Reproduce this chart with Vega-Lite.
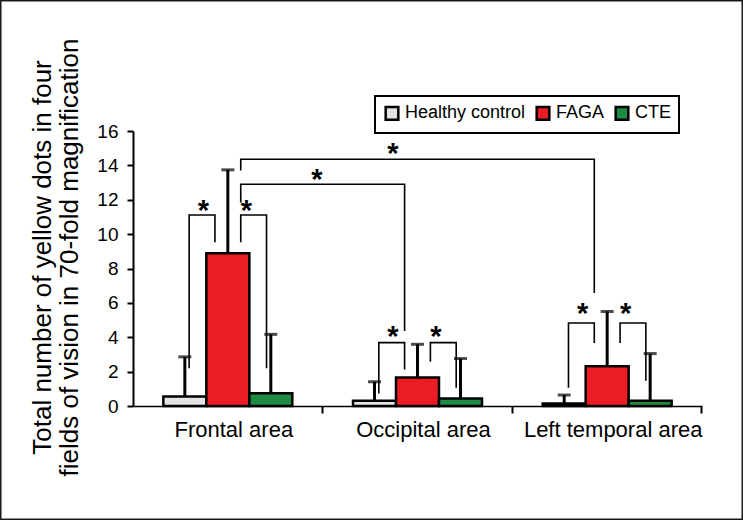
{
  "$schema": "https://vega.github.io/schema/vega-lite/v6.json",
  "width": 743,
  "height": 520,
  "autosize": {"type": "none"},
  "padding": 0,
  "background": "white",
  "config": {
    "font": "Liberation Sans",
    "view": {"stroke": "#1a1a1a", "strokeWidth": 3},
    "axis": {"domainColor": "black", "tickColor": "black", "labelColor": "black", "titleColor": "black", "grid": false},
    "axisY": {"offset": -133, "tickSize": 6, "tickWidth": 2, "domainWidth": 2, "labelFontSize": 19, "labelPadding": 9, "titleFontSize": 26, "titleFontWeight": "normal", "titleLineHeight": 27, "titlePadding": 14, "titleY": 257, "tickCount": 8}
  },
  "datasets": {
    "bars": [
      {"area": "Frontal area", "group": "Healthy control", "mean": 0.55, "upper": 2.86},
      {"area": "Frontal area", "group": "FAGA", "mean": 8.89, "upper": 13.74},
      {"area": "Frontal area", "group": "CTE", "mean": 0.74, "upper": 4.17},
      {"area": "Occipital area", "group": "Healthy control", "mean": 0.31, "upper": 1.41},
      {"area": "Occipital area", "group": "FAGA", "mean": 1.66, "upper": 3.59},
      {"area": "Occipital area", "group": "CTE", "mean": 0.44, "upper": 2.76},
      {"area": "Left temporal area", "group": "Healthy control", "mean": 0.14, "upper": 0.64},
      {"area": "Left temporal area", "group": "FAGA", "mean": 2.32, "upper": 5.5},
      {"area": "Left temporal area", "group": "CTE", "mean": 0.3, "upper": 3.05}
    ],
    "brackets": [
      {"pair": "F1", "area": "Frontal area", "anchor": "HC right", "level": 2.19, "k": 1},
      {"pair": "F1", "area": "Frontal area", "anchor": "HC right", "level": 11.11, "k": 2},
      {"pair": "F1", "area": "Frontal area", "anchor": "FAGA left", "level": 11.11, "k": 3},
      {"pair": "F1", "area": "Frontal area", "anchor": "FAGA left", "level": 9.53, "k": 4},
      {"pair": "F2", "area": "Frontal area", "anchor": "FAGA right", "level": 9.53, "k": 1},
      {"pair": "F2", "area": "Frontal area", "anchor": "FAGA right", "level": 11.11, "k": 2},
      {"pair": "F2", "area": "Frontal area", "anchor": "CTE left", "level": 11.11, "k": 3},
      {"pair": "F2", "area": "Frontal area", "anchor": "CTE left", "level": 2.19, "k": 4},
      {"pair": "O1", "area": "Occipital area", "anchor": "HC right", "level": 0.73, "k": 1},
      {"pair": "O1", "area": "Occipital area", "anchor": "HC right", "level": 3.69, "k": 2},
      {"pair": "O1", "area": "Occipital area", "anchor": "FAGA left", "level": 3.69, "k": 3},
      {"pair": "O1", "area": "Occipital area", "anchor": "FAGA left", "level": 2.13, "k": 4},
      {"pair": "O2", "area": "Occipital area", "anchor": "FAGA right", "level": 2.57, "k": 1},
      {"pair": "O2", "area": "Occipital area", "anchor": "FAGA right", "level": 3.69, "k": 2},
      {"pair": "O2", "area": "Occipital area", "anchor": "CTE left", "level": 3.69, "k": 3},
      {"pair": "O2", "area": "Occipital area", "anchor": "CTE left", "level": 1.06, "k": 4},
      {"pair": "L1", "area": "Left temporal area", "anchor": "HC right", "level": 1.06, "k": 1},
      {"pair": "L1", "area": "Left temporal area", "anchor": "HC right", "level": 4.83, "k": 2},
      {"pair": "L1", "area": "Left temporal area", "anchor": "FAGA left", "level": 4.83, "k": 3},
      {"pair": "L1", "area": "Left temporal area", "anchor": "FAGA left", "level": 3.67, "k": 4},
      {"pair": "L2", "area": "Left temporal area", "anchor": "FAGA right", "level": 3.67, "k": 1},
      {"pair": "L2", "area": "Left temporal area", "anchor": "FAGA right", "level": 4.83, "k": 2},
      {"pair": "L2", "area": "Left temporal area", "anchor": "CTE left", "level": 4.83, "k": 3},
      {"pair": "L2", "area": "Left temporal area", "anchor": "CTE left", "level": 1.47, "k": 4},
      {"pair": "X1", "area": "Frontal area", "anchor": "FAGA right", "level": 13.7, "k": 1},
      {"pair": "X1", "area": "Frontal area", "anchor": "FAGA right", "level": 14.36, "k": 2},
      {"pair": "X1", "area": "Left temporal area", "anchor": "FAGA left", "level": 14.36, "k": 3},
      {"pair": "X1", "area": "Left temporal area", "anchor": "FAGA left", "level": 6.57, "k": 4},
      {"pair": "X2", "area": "Frontal area", "anchor": "FAGA right", "level": 11.84, "k": 1},
      {"pair": "X2", "area": "Frontal area", "anchor": "FAGA right", "level": 12.9, "k": 2},
      {"pair": "X2", "area": "Occipital area", "anchor": "FAGA left", "level": 12.9, "k": 3},
      {"pair": "X2", "area": "Occipital area", "anchor": "FAGA left", "level": 4.37, "k": 4}
    ],
    "stars": [
      {"area": "Frontal area", "group": "Healthy control", "level": 11.55},
      {"area": "Frontal area", "group": "FAGA", "level": 11.55},
      {"area": "Occipital area", "group": "Healthy control", "level": 4.23},
      {"area": "Occipital area", "group": "FAGA", "level": 4.23},
      {"area": "Left temporal area", "group": "Healthy control", "level": 5.61},
      {"area": "Left temporal area", "group": "FAGA", "level": 5.61},
      {"area": "Occipital area", "group": "Healthy control", "level": 14.9}
    ],
    "starsLong": [
      {"area": "Frontal area", "group": "CTE", "level": 13.39}
    ]
  },
  "resolve": {"scale": {"xOffset": "independent"}, "axis": {"x": "independent"}},
  "layer": [
    {
      "data": {"name": "bars"},
      "mark": {"type": "bar", "stroke": "black", "strokeWidth": 2.5},
      "encoding": {
        "x": {
          "field": "area", "type": "nominal",
          "scale": {"domain": ["Frontal area", "Occipital area", "Left temporal area"], "range": [133, 702], "paddingInner": 0.32, "paddingOuter": 0.16},
          "axis": {"orient": "bottom", "offset": -114, "title": null, "ticks": false, "tickSize": 0, "labelAngle": 0, "labelFontSize": 22, "labelPadding": 13, "labelOffset": 6, "domainWidth": 1.5}
        },
        "xOffset": {"field": "group", "type": "nominal", "scale": {"type": "band", "domain": ["Healthy control", "FAGA", "CTE"], "paddingInner": 0, "paddingOuter": 0}},
        "y": {
          "field": "mean", "type": "quantitative", "stack": null,
          "title": ["Total number of yellow dots in four", "fields of vision in 70-fold magnification"],
          "scale": {"domain": [0, 16], "range": [406, 131], "nice": false, "zero": true}
        },
        "color": {
          "field": "group", "type": "nominal",
          "scale": {"domain": ["Healthy control", "FAGA", "CTE"], "range": ["#e3e3e3", "#ec1c24", "#1e8b43"]},
          "legend": {"orient": "none", "legendX": 375, "legendY": 96, "direction": "horizontal", "title": null, "fillColor": "white", "strokeColor": "black", "padding": 8, "labelFontSize": 18, "labelColor": "black", "labelOffset": 4, "columnPadding": 5, "symbolType": "square", "symbolSize": 160, "symbolStrokeColor": "black", "symbolStrokeWidth": 2.5,
            "encode": {"legend": {"update": {"strokeWidth": {"value": 2}}}}}
        }
      }
    },
    {
      "data": {"name": "bars"},
      "mark": {"type": "rule", "color": "black", "strokeWidth": 3},
      "encoding": {
        "x": {"field": "area", "type": "nominal", "axis": {"orient": "bottom", "offset": -114, "title": null, "labels": false, "domain": false, "ticks": true, "tickSize": 7, "tickWidth": 2, "bandPosition": 1.233}},
        "xOffset": {"field": "group", "type": "nominal", "scale": {"type": "band", "domain": ["Healthy control", "FAGA", "CTE"], "paddingInner": 0, "paddingOuter": 0}},
        "y": {"field": "mean", "type": "quantitative", "title": ["Total number of yellow dots in four", "fields of vision in 70-fold magnification"]},
        "y2": {"field": "upper"}
      }
    },
    {
      "data": {"name": "bars"},
      "mark": {"type": "tick", "color": "black", "thickness": 3, "size": 13},
      "encoding": {
        "x": {"field": "area", "type": "nominal", "axis": null},
        "xOffset": {"field": "group", "type": "nominal", "scale": {"type": "band", "domain": ["Healthy control", "FAGA", "CTE"], "paddingInner": 0, "paddingOuter": 0}},
        "y": {"field": "upper", "type": "quantitative", "title": ["Total number of yellow dots in four", "fields of vision in 70-fold magnification"]}
      }
    },
    {
      "data": {"name": "brackets"},
      "mark": {"type": "line", "color": "black", "strokeWidth": 1.6, "strokeJoin": "miter"},
      "encoding": {
        "x": {"field": "area", "type": "nominal", "axis": null},
        "xOffset": {"field": "anchor", "type": "nominal", "scale": {"type": "point", "domain": ["HC right", "FAGA left", "FAGA right", "CTE left"], "padding": 1.45}},
        "y": {"field": "level", "type": "quantitative", "title": ["Total number of yellow dots in four", "fields of vision in 70-fold magnification"]},
        "detail": {"field": "pair", "type": "nominal"},
        "order": {"field": "k", "type": "quantitative"}
      }
    },
    {
      "data": {"name": "stars"},
      "mark": {"type": "text", "text": "*", "fontSize": 29, "fontWeight": "bold", "color": "black", "align": "center", "baseline": "alphabetic", "dx": 18.5, "dy": 13},
      "encoding": {
        "x": {"field": "area", "type": "nominal", "axis": null},
        "xOffset": {"field": "group", "type": "nominal", "scale": {"type": "band", "domain": ["Healthy control", "FAGA", "CTE"], "paddingInner": 0, "paddingOuter": 0}},
        "y": {"field": "level", "type": "quantitative", "title": ["Total number of yellow dots in four", "fields of vision in 70-fold magnification"]}
      }
    },
    {
      "data": {"name": "starsLong"},
      "mark": {"type": "text", "text": "*", "fontSize": 29, "fontWeight": "bold", "color": "black", "align": "center", "baseline": "alphabetic", "dx": 46, "dy": 13},
      "encoding": {
        "x": {"field": "area", "type": "nominal", "axis": null},
        "xOffset": {"field": "group", "type": "nominal", "scale": {"type": "band", "domain": ["Healthy control", "FAGA", "CTE"], "paddingInner": 0, "paddingOuter": 0}},
        "y": {"field": "level", "type": "quantitative", "title": ["Total number of yellow dots in four", "fields of vision in 70-fold magnification"]}
      }
    }
  ]
}
